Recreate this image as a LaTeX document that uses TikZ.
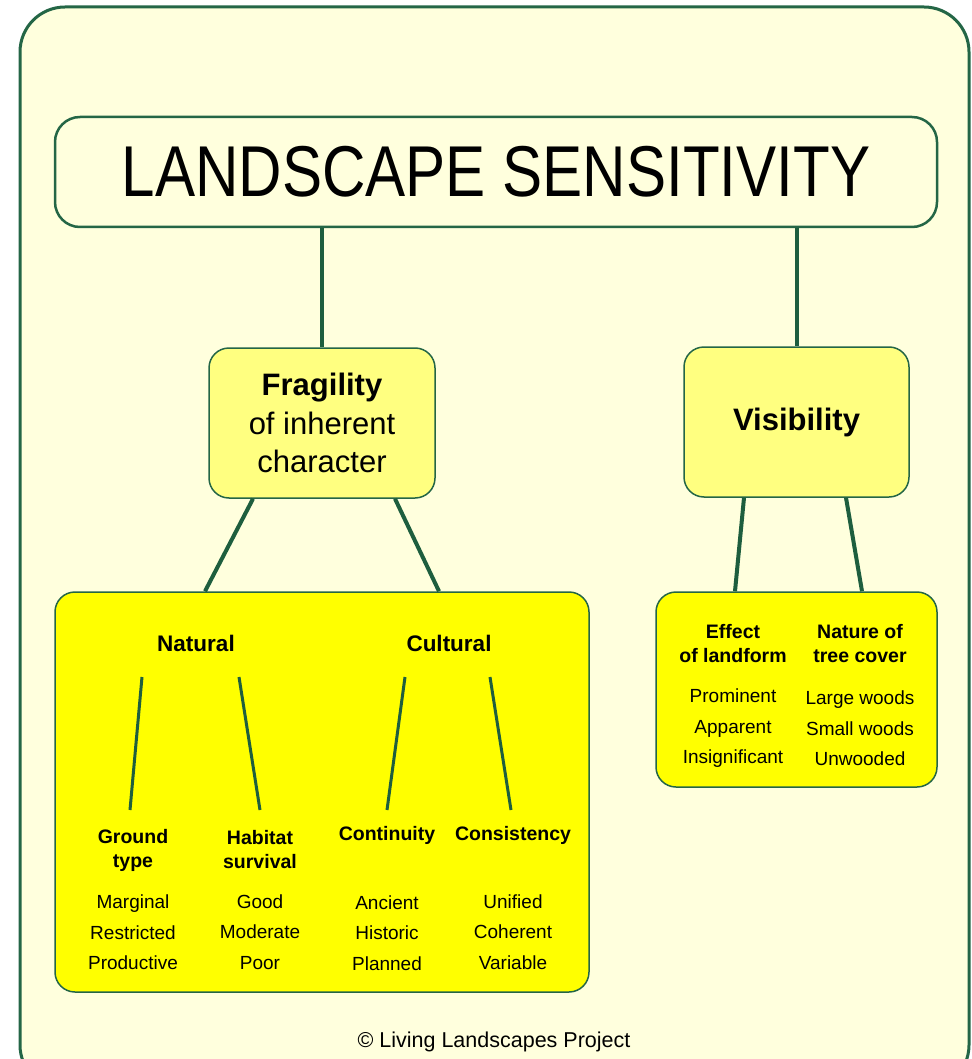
\documentclass[tikz,border=0pt]{standalone}
\usepackage{fontspec}
\setmainfont{Liberation Sans}
\usepackage{graphicx}
\usepackage{tikz}
\definecolor{frameGreen}{RGB}{36,102,70}
\definecolor{linkGreen}{RGB}{30,94,62}
\definecolor{paleYellow}{RGB}{255,255,221}
\definecolor{softYellow}{RGB}{255,255,128}
\definecolor{brightYellow}{RGB}{255,255,0}
\tikzstyle{frame} = [draw=frameGreen, line width=3pt, fill=paleYellow, rounded corners=45pt]
\tikzstyle{titlebox} = [rectangle, rounded corners=25pt, minimum width=882pt, minimum height=110pt, draw=frameGreen, line width=2.5pt, fill=paleYellow, font=\fontsize{72}{80}\selectfont]
\tikzstyle{mainfactor} = [rectangle, rounded corners=20pt, minimum width=226pt, minimum height=150pt, draw=frameGreen, line width=1.5pt, fill=softYellow, align=center, font=\fontsize{31}{38.5}\selectfont]
\tikzstyle{detailbox} = [rectangle, rounded corners=20pt, draw=frameGreen, line width=1.5pt, fill=brightYellow]
\tikzstyle{group} = [font=\bfseries\fontsize{22.5}{27}\selectfont]
\tikzstyle{factor} = [align=center, font=\bfseries\fontsize{19.5}{24}\selectfont]
\tikzstyle{grades} = [align=center, font=\fontsize{19}{30.5}\selectfont]
\tikzstyle{link} = [draw=linkGreen, line width=4pt]
\tikzstyle{sublink} = [draw=linkGreen, line width=3pt]
\begin{document}
\begin{tikzpicture}[x=1pt, y=-1pt]
\useasboundingbox (0,0) rectangle (971,1059);
\clip (0,0) rectangle (971,1059);

\draw [frame] (20,7) rectangle (969,1090);

\node (title) [titlebox] at (496,172) {\scalebox{0.835}[1]{LANDSCAPE SENSITIVITY}};

\node (fragility) [mainfactor] at (322,423) {\textbf{Fragility}\\of inherent\\character};
\node (visibility) [mainfactor, minimum width=225pt] at (796.5,422) {\textbf{Visibility}};

\node (naturalBox) [detailbox, minimum width=534pt, minimum height=400pt] at (322,792) {};
\node (visualBox) [detailbox, minimum width=281pt, minimum height=195pt] at (796.5,689.5) {};

\node (natural) [group] at (196,643) {Natural};
\node (cultural) [group] at (449,643) {Cultural};

\node (ground) [factor] at (133,850) {Ground\\type};
\node (habitat) [factor] at (260,850) {Habitat\\survival};
\node (continuity) [factor] at (387,835) {Continuity};
\node (consistency) [factor] at (513,835) {Consistency};

\node (groundGrades) [grades] at (133,932.5) {Marginal\\Restricted\\Productive};
\node (habitatGrades) [grades] at (260,932) {Good\\Moderate\\Poor};
\node (continuityGrades) [grades] at (387,933) {Ancient\\Historic\\Planned};
\node (consistencyGrades) [grades] at (513,932) {Unified\\Coherent\\Variable};

\node (landform) [factor] at (733,644) {Effect\\of landform};
\node (treeCover) [factor] at (860,644) {Nature of\\tree cover};
\node (landformGrades) [grades] at (733,728.5) {Prominent\\Apparent\\Insignificant};
\node (treeGrades) [grades] at (860,728.5) {Large woods\\Small woods\\Unwooded};

\node (credit) [font=\fontsize{21.5}{26}\selectfont] at (494,1042) {© Living Landscapes Project};

\draw [link] (title.south -| fragility.north) -- (fragility.north);
\draw [link] (title.south -| visibility.north) -- (visibility.north);

\draw [link] ([xshift=-69pt]fragility.south) -- ([xshift=-117pt]naturalBox.north);
\draw [link] ([xshift=73pt]fragility.south) -- ([xshift=117pt]naturalBox.north);
\draw [link] ([xshift=-52.5pt]visibility.south) -- ([xshift=-61.5pt]visualBox.north);
\draw [link] ([xshift=49.5pt]visibility.south) -- ([xshift=65.5pt]visualBox.north);

\draw [sublink] ([shift={(-54,34)}]natural.center) -- ([shift={(-3,-40)}]ground.center);
\draw [sublink] ([shift={(43,34)}]natural.center) -- ([shift={(0,-40)}]habitat.center);
\draw [sublink] ([shift={(-44,34)}]cultural.center) -- ([shift={(0,-25)}]continuity.center);
\draw [sublink] ([shift={(41,34)}]cultural.center) -- ([shift={(-2,-25)}]consistency.center);

\end{tikzpicture}
\end{document}
